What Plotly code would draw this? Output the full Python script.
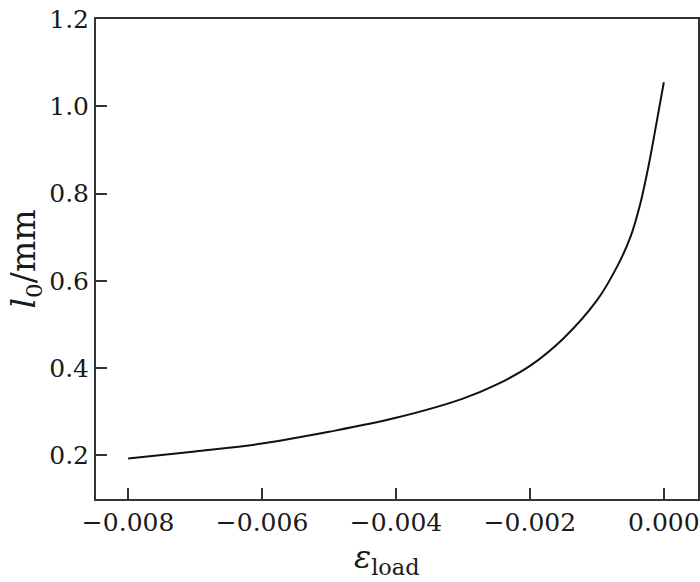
import plotly.graph_objects as go

eps_load = [-0.008, -0.007, -0.006, -0.005, -0.004, -0.003, -0.0025, -0.002,
            -0.0015, -0.001, -0.0007, -0.0005, -0.00035, -0.00022, -0.0001, 0.0]
l0_mm = [0.193, 0.209, 0.227, 0.254, 0.286, 0.330, 0.362, 0.405,
         0.468, 0.555, 0.632, 0.700, 0.778, 0.870, 0.970, 1.055]

x_ticks = [-0.008, -0.006, -0.004, -0.002, 0.0]
x_tick_text = ["\u22120.008", "\u22120.006", "\u22120.004", "\u22120.002", "0.000"]
y_ticks = [0.2, 0.4, 0.6, 0.8, 1.0, 1.2]
y_tick_text = ["0.2", "0.4", "0.6", "0.8", "1.0", "1.2"]

font = "DejaVu Serif"
ink = "#1a1a1a"

fig = go.Figure()
fig.add_trace(go.Scatter(x=eps_load, y=l0_mm, mode="lines",
                         line=dict(color="#111111", width=2, shape="spline", smoothing=1.0),
                         showlegend=False))

fig.update_layout(
    width=700, height=582,
    margin=dict(l=96, r=2, t=19, b=83),
    paper_bgcolor="white", plot_bgcolor="white",
    font=dict(family=font, size=25, color=ink),
    xaxis=dict(
        range=[-0.00848, 0.00051], tickmode="array", tickvals=x_ticks, ticktext=x_tick_text,
        ticks="inside", ticklen=11, tickwidth=1.5, tickcolor="#333333",
        showline=True, linecolor="#333333", linewidth=2, mirror=True,
        showgrid=False, zeroline=False, automargin=False, ticklabeloverflow="allow",
    ),
    yaxis=dict(
        range=[0.1, 1.2], tickmode="array", tickvals=y_ticks, ticktext=y_tick_text,
        ticks="inside", ticklen=11, tickwidth=1.5, tickcolor="#333333",
        showline=True, linecolor="#333333", linewidth=2, mirror=True,
        showgrid=False, zeroline=False, automargin=False, ticklabeloverflow="allow",
        title=dict(text="<i>l</i><sub>0</sub>/mm", font=dict(family=font, size=33), standoff=4),
    ),
    annotations=[dict(
        text="<i>ε</i><sub>load</sub>", xref="paper", yref="paper",
        x=0.483, y=0, yshift=-37, xanchor="center", yanchor="top",
        showarrow=False, font=dict(family=font, size=32, color=ink),
    )],
)

fig.write_html("out.html", config={"displayModeBar": False},
               post_script="document.body.style.margin='0';document.body.style.overflow='hidden';")
